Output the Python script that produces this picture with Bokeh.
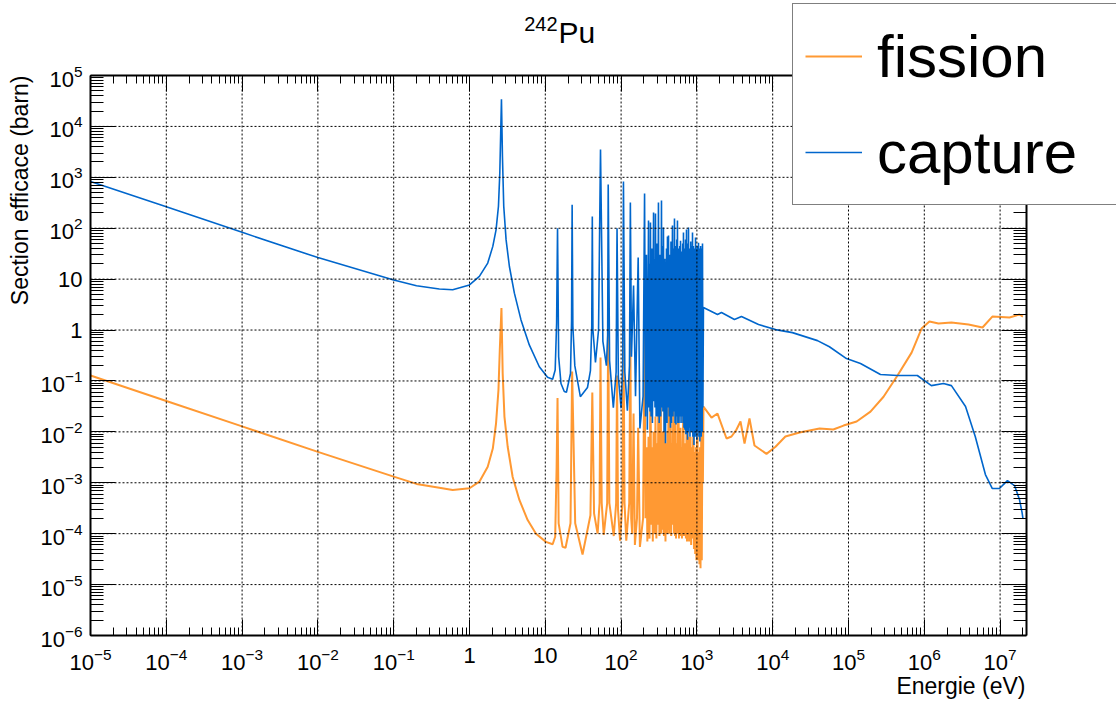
import math
from bokeh.plotting import figure
from bokeh.models import (FixedTicker, LogAxis, LogTickFormatter, Legend, LegendItem,
                          Label, Range1d, CustomJSTickFormatter)
from bokeh.embed import file_html
from bokeh.resources import INLINE

FONT = "Liberation Sans"
BLUE = "#0066cc"
ORANGE = "#ff9933"

# ---------------- axes / ticks ----------------
x_tick_values = [1e-5, 1e-4, 1e-3, 1e-2, 1e-1, 1.0, 10.0, 1e2, 1e3, 1e4, 1e5, 1e6, 1e7]
y_tick_values = [1e-6, 1e-5, 1e-4, 1e-3, 1e-2, 1e-1, 1.0, 10.0, 1e2, 1e3, 1e4, 1e5]
plain_tick_labels = {1: "1", 10: "10", "1": "1", "10": "10"}
X_MIN, X_MAX = 1e-5, 2.23e7      # visible axis range (eV)
Y_MIN, Y_MAX = 1e-6, 1e5         # visible axis range (barn)

# ---------------- data: (energy eV, cross section barn) ----------------
capture_thermal = [
    (1e-5, 830), (1e-4, 263), (1e-3, 83), (1e-2, 26.5), (0.1, 9.6),
    (0.2, 7.4), (0.4, 6.4), (0.6, 6.2), (1.0, 7.7), (1.35, 11.3),
    (1.74, 20.7), (2.03, 44), (2.24, 93), (2.41, 270), (2.51, 1200),
    (2.58, 7400), (2.64, 34000), (2.72, 2600), (2.83, 270), (3.04, 59),
    (3.36, 17.7), (3.91, 5.3), (4.78, 1.58), (6.15, 0.51), (8.34, 0.19),
    (10.7, 0.118),
]
capture_resolved = [
    (12.5, 0.108), (13.5, 0.164), (14.1, 1.36), (14.5, 100), (15.0, 0.30),
    (16.1, 0.089), (17.8, 0.062), (19.0, 0.060), (21.5, 0.14), (22.2, 1.5),
    (22.6, 290), (23.1, 1.2), (24.5, 0.2), (29.0, 0.049), (36.0, 0.074),
    (39.4, 0.16), (41.0, 1.2), (41.7, 170), (42.5, 1.0), (45.9, 0.23),
    (50.4, 1.0), (53.5, 3500), (57.5, 0.6), (64.0, 0.20), (66.5, 0.8),
    (67.6, 720), (70.5, 0.25), (79.0, 0.030), (86.0, 0.15), (88.4, 100),
    (92.0, 0.12), (100.0, 0.029), (105.0, 0.2), (107.4, 830), (112.0, 0.15),
    (121.0, 0.026), (129.0, 0.2), (132.5, 320), (137.0, 0.3), (146.0, 7.5),
    (155.0, 0.05), (168.0, 26.5), (177.0, 0.0117), (195.0, 0.05),
]
capture_dense = [
    (204, 480), (210, 0.02), (216, 30), (222, 0.011), (230, 142),
    (234, 0.03), (238, 20), (241, 0.025), (244, 129), (249, 0.02),
    (254, 40), (259, 0.015), (268, 204), (272, 0.04), (276, 25),
    (280, 0.03), (284, 195), (290, 0.02), (297, 50), (303, 0.02),
    (311, 320), (318, 0.015), (325, 30), (333, 0.02), (341, 350),
    (346, 0.03), (350, 45), (356, 0.025), (362, 103), (370, 0.01),
    (377, 25), (385, 0.006), (397, 40), (403, 0.015), (409, 69),
    (413, 0.03), (418, 35), (420, 0.03), (422, 72), (432, 0.02),
    (440, 30), (448, 0.012), (455, 55), (462, 0.015), (476, 113),
    (483, 0.02), (490, 40), (497, 0.025), (506, 155), (515, 0.015),
    (522, 45), (530, 0.014), (542, 60), (548, 0.02), (554, 142),
    (562, 0.015), (570, 40), (580, 0.015), (594, 45), (600, 0.02),
    (608, 57), (618, 0.015), (626, 35), (635, 0.02), (650, 50),
    (657, 0.015), (665, 82), (675, 0.012), (685, 40), (695, 0.011),
    (708, 60), (716, 0.009), (729, 94), (738, 0.01), (745, 45),
    (752, 0.007), (763, 50), (768, 0.01), (775, 103), (788, 0.012),
    (798, 40), (810, 0.008), (830, 55), (845, 0.01), (860, 45),
    (868, 0.01), (875, 82), (885, 0.008), (898, 45), (915, 0.0055),
    (935, 40), (948, 0.008), (959, 66), (972, 0.01), (985, 40),
    (1000, 0.007), (1015, 45), (1030, 0.01), (1050, 52), (1065, 0.008),
    (1080, 40), (1095, 0.0065), (1120, 45), (1140, 0.008), (1160, 40),
    (1175, 0.01), (1185, 50), (1200, 0.03),
]
capture_fast = [
    (1220, 2.77), (1870, 2.02), (2110, 2.21), (3130, 1.61), (3870, 1.84),
    (6500, 1.28), (1.09e4, 1.02), (1.82e4, 0.89), (3.9e4, 0.62), (5.6e4, 0.47),
    (9.4e4, 0.275), (1.44e5, 0.22), (2.64e5, 0.134), (4.43e5, 0.128), (8.1e5, 0.128),
    (1.24e6, 0.081), (1.79e6, 0.089), (2.28e6, 0.081), (3.5e6, 0.0314), (4.7e6, 0.0081),
    (6.4e6, 1.45e-3), (7.9e6, 7.7e-4), (9.8e6, 7.7e-4), (1.25e7, 1.1e-3), (1.55e7, 8.8e-4),
    (1.8e7, 4.7e-4), (1.95e7, 2.6e-4), (2.0e7, 2.0e-4),
]

fission_thermal = [
    (1e-5, 0.128), (1e-4, 0.0405), (1e-3, 0.0128), (1e-2, 0.00405), (0.1, 0.00132),
    (0.2, 0.00095), (0.4, 0.00080), (0.6, 0.00072), (1.0, 0.00078), (1.35, 0.00105),
    (1.74, 0.00207), (2.03, 0.0047), (2.24, 0.0147), (2.41, 0.0665), (2.51, 0.41),
    (2.64, 2.7), (2.74, 0.141), (2.89, 0.02), (3.19, 0.0051), (3.71, 0.0013),
    (4.55, 0.00046), (5.85, 0.000185), (7.54, 0.0001), (10.2, 0.000069),
]
fission_resolved = [
    (12.5, 6.2e-5), (13.5, 8.7e-5), (14.1, 2e-3), (14.5, 0.046), (15.0, 1.6e-4),
    (16.9, 5.5e-5), (18.5, 5.3e-5), (21.5, 1.6e-4), (22.6, 0.153), (24.8, 1.6e-4),
    (31.0, 3.9e-5), (39.4, 2.3e-4), (41.7, 0.059), (44.0, 2.5e-4), (49.0, 1.0e-4),
    (52.0, 4e-4), (53.5, 0.29), (55.5, 4e-4), (59.0, 9.5e-5), (65.5, 4e-4),
    (67.6, 1.4), (70.0, 4e-4), (80.0, 9e-5), (86.0, 4e-4), (88.4, 0.128),
    (91.0, 3e-4), (97.0, 7.3e-5), (104.0, 4e-4), (107.4, 1.93), (111.0, 4e-4),
    (117.0, 7.3e-5), (128.0, 4e-4), (132.5, 0.71), (136.0, 2e-4), (140.0, 1e-4),
    (146.0, 0.023), (152.0, 6e-5), (162.0, 2e-4), (168.0, 0.012), (177.0, 5.5e-5),
    (195.0, 2e-4),
]
fission_dense = [
    (204, 1.34), (210, 2e-4), (216, 5e-3), (222, 7e-5), (230, 8e-3),
    (237, 8e-5), (244, 0.20), (250, 1.5e-4), (256, 5e-3), (262, 7e-5),
    (268, 0.01), (276, 1e-4), (284, 0.02), (292, 8e-5), (300, 6e-3),
    (305, 1.5e-4), (311, 0.36), (320, 9e-5), (331, 0.71), (340, 1e-4),
    (350, 0.01), (356, 1.2e-4), (362, 4e-3), (368, 9e-5), (374, 0.18),
    (385, 7e-5), (395, 6e-3), (403, 1e-4), (409, 0.01), (415, 1.2e-4),
    (422, 0.146), (430, 1e-4), (440, 0.01), (449, 0.20), (458, 9e-5),
    (468, 6e-3), (476, 1.5e-4), (483, 8e-3), (491, 0.033), (500, 1e-4),
    (506, 0.01), (515, 9e-5), (522, 0.015), (530, 8e-5), (542, 6e-3),
    (550, 1e-4), (560, 8e-3), (572, 0.175), (580, 8e-5), (594, 6e-3),
    (600, 9e-5), (608, 0.012), (618, 1e-4), (626, 5e-3), (635, 8e-5),
    (650, 6e-3), (665, 0.030), (675, 9e-5), (685, 6e-3), (695, 1e-4),
    (708, 5e-3), (716, 8e-5), (729, 0.01), (740, 7e-5), (752, 0.023),
    (763, 1e-4), (775, 8e-3), (788, 7e-5), (798, 5e-3), (810, 8e-5),
    (824, 8e-3), (840, 6e-5), (860, 5e-3), (875, 8e-5), (890, 6e-3),
    (902, 0.012), (915, 5e-5), (935, 4e-3), (950, 4e-5), (970, 5e-3),
    (985, 3e-5), (1000, 6e-3), (1019, 0.0146), (1040, 3e-5), (1060, 4e-3),
    (1080, 2.5e-5), (1100, 5e-3), (1116, 2.1e-5), (1140, 8e-3), (1160, 3e-5),
    (1185, 0.029), (1200, 1e-3),
]
fission_fast = [
    (1220, 0.0314), (1560, 0.0191), (1870, 0.0229), (2460, 0.0074), (2860, 0.0081),
    (3330, 0.0111), (3760, 0.016), (4250, 0.0059), (4940, 0.0183), (5750, 0.0054),
    (8280, 0.0037), (1.09e4, 0.0051), (1.47e4, 0.0081), (2.26e4, 0.0097), (4.15e4, 0.0116),
    (6.3e4, 0.0111), (8.6e4, 0.0133), (1.28e5, 0.016), (1.95e5, 0.025), (2.9e5, 0.049),
    (4.43e5, 0.128), (6.8e5, 0.36), (9.2e5, 1.07), (1.17e6, 1.47), (1.54e6, 1.34),
    (2.28e6, 1.40), (3.83e6, 1.28), (5.86e6, 1.12), (7.9e6, 1.84), (1.33e7, 1.76),
    (1.8e7, 2.02), (2.0e7, 1.84),
]

capture_points = capture_thermal + capture_resolved + capture_dense + capture_fast
fission_points = fission_thermal + fission_resolved + fission_dense + fission_fast
capture_energy = [e for e, s in capture_points]
capture_xs = [s for e, s in capture_points]
fission_energy = [e for e, s in fission_points]
fission_xs = [s for e, s in fission_points]

# ---------------- layout geometry (page pixels) ----------------
W, H = 1116, 702
AX_L, AX_R, AX_T, AX_B = 90, 1026, 75, 635   # visible axis box
xdec = (AX_R - AX_L) / (math.log10(X_MAX) - math.log10(X_MIN))
ydec = (AX_B - AX_T) / (math.log10(Y_MAX) - math.log10(Y_MIN))
CANVAS_X0 = 10 ** (math.log10(X_MIN) - AX_L / xdec)
CANVAS_X1 = 10 ** (math.log10(X_MIN) + (W - AX_L) / xdec)
CANVAS_Y0 = 10 ** (math.log10(Y_MIN) - (H - AX_B) / ydec)
CANVAS_Y1 = 10 ** (math.log10(Y_MAX) + AX_T / ydec)


def x_at(px):
    return 10 ** (math.log10(X_MIN) + (px - AX_L) / xdec)


def y_at(py):
    return 10 ** (math.log10(Y_MAX) - (py - AX_T) / ydec)


def mid_offset(size_px):
    # distance from the alphabetic baseline to the middle of the text box
    return 0.35 * size_px


p = figure(width=W, height=H, x_axis_type="log", y_axis_type="log",
           x_range=Range1d(CANVAS_X0, CANVAS_X1), y_range=Range1d(CANVAS_Y0, CANVAS_Y1),
           output_backend="svg", toolbar_location=None,
           min_border_left=0, min_border_right=0, min_border_top=0, min_border_bottom=0,
           background_fill_color="white", border_fill_color="white")
p.title.visible = False
p.outline_line_color = None
p.xgrid.visible = False
p.ygrid.visible = False

x_minor = [m * 10.0 ** e for e in range(-6, 8) for m in range(2, 10)]
x_minor = [v for v in x_minor if X_MIN < v < X_MAX]
y_minor = [m * 10.0 ** e for e in range(-7, 6) for m in range(2, 10)]
y_minor = [v for v in y_minor if Y_MIN < v < Y_MAX]


def style_axis(ax, ticks, minor, maj, mnr, labelled):
    ax.ticker = FixedTicker(ticks=ticks, minor_ticks=minor)
    ax.major_tick_in = maj
    ax.major_tick_out = 0
    ax.minor_tick_in = mnr
    ax.minor_tick_out = 0
    ax.major_tick_line_color = "black"
    ax.minor_tick_line_color = "black"
    ax.major_tick_line_width = 1
    ax.minor_tick_line_width = 1
    ax.axis_line_color = "black"
    ax.axis_line_width = 2
    if labelled:
        ax.formatter = LogTickFormatter()
        ax.major_label_overrides = plain_tick_labels
        ax.major_label_text_font = FONT
        ax.major_label_text_font_size = "22px"
        ax.major_label_text_color = "black"
    else:
        ax.formatter = CustomJSTickFormatter(code="return ''")
        ax.major_label_text_font_size = "0px"


xa = p.xaxis[0]
ya = p.yaxis[0]
style_axis(xa, x_tick_values, x_minor, 16, 8, True)
style_axis(ya, y_tick_values, y_minor, 25, 13, True)
xa.fixed_location = Y_MIN
xa.bounds = (X_MIN, X_MAX)
ya.fixed_location = X_MIN
ya.bounds = (Y_MIN, Y_MAX)
xa.major_label_standoff = 12
ya.major_label_standoff = 8

top_ax = LogAxis(fixed_location=Y_MAX, bounds=(X_MIN, X_MAX))
style_axis(top_ax, x_tick_values, x_minor, 16, 8, False)
p.add_layout(top_ax, "above")
right_ax = LogAxis(fixed_location=X_MAX, bounds=(Y_MIN, Y_MAX))
style_axis(right_ax, y_tick_values, y_minor, 25, 13, False)
p.add_layout(right_ax, "right")

# data
rf = p.line(fission_energy, fission_xs, line_color=ORANGE, line_width=2)
rc = p.line(capture_energy, capture_xs, line_color=BLUE, line_width=1.6)

# dotted grid (drawn above the curves, as in the original)
p.segment(x0=x_tick_values, y0=[Y_MIN] * len(x_tick_values),
          x1=x_tick_values, y1=[Y_MAX] * len(x_tick_values),
          line_color="black", line_width=1, line_dash="2 2")
p.segment(x0=[X_MIN] * len(y_tick_values), y0=y_tick_values,
          x1=[X_MAX] * len(y_tick_values), y1=y_tick_values,
          line_color="black", line_width=1, line_dash="2 2")

legend = Legend(items=[LegendItem(label="fission", renderers=[rf]),
                       LegendItem(label="capture", renderers=[rc])],
                location=(792, H - 205), label_text_font=FONT, label_text_font_size="60px",
                label_text_color="black",
                label_height=80, glyph_height=80, glyph_width=57, label_standoff=15,
                label_width=240, spacing=16, padding=12, margin=0,
                border_line_color="black", border_line_width=1.5,
                background_fill_color="white", background_fill_alpha=1.0)
p.add_layout(legend, "center")


def add_text(text, px, py_baseline, size, align, angle=0.0):
    if angle:
        # rotated 90 deg: baseline is a vertical line at px, glyph tops point left
        x = x_at(px - mid_offset(size))
        y = y_at(py_baseline)
    else:
        x = x_at(px)
        y = y_at(py_baseline - mid_offset(size))
    p.add_layout(Label(x=x, y=y, text=text, text_font=FONT, text_font_size=f"{size}px",
                       text_align=align, text_baseline="middle", angle=angle,
                       text_color="black"))


# title 242Pu
add_text("242", 557, 30, 20, "right")
add_text("Pu", 558, 42, 30, "left")
# axis titles
add_text("Energie (eV)", 1025, 694, 23, "right")
add_text("Section efficace (barn)", 28, 75, 23, "right", angle=math.pi / 2)

open("out.html", "w").write(file_html(p, INLINE))
